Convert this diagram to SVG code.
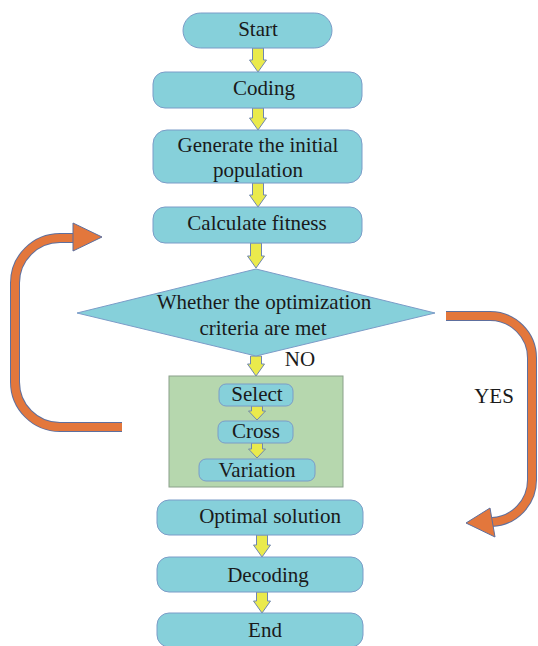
<svg xmlns="http://www.w3.org/2000/svg" width="538" height="646" viewBox="0 0 538 646" font-family="'Liberation Serif', 'Times New Roman', serif">
<style>
.box{fill:#86d0da;stroke:#7b9cc8;stroke-width:1}
.t{font-family:'Liberation Serif','Times New Roman',Times,serif;font-size:21px;fill:#1a1a1a;text-anchor:middle}
.ya{fill:#eaea4c;stroke:#6f86b0;stroke-width:1}
.orOut{fill:none;stroke:#5d6f9e;stroke-width:10}
.or{fill:none;stroke:#e3773c;stroke-width:8}
.orh{fill:#e3773c;stroke:#5d6f9e;stroke-width:1}
</style>
<rect width="538" height="646" fill="#ffffff"/>
<g id="ga"><rect x="169" y="376" width="174" height="111" fill="#b6d7ae" stroke="#8aa08a" stroke-width="1"/></g>
<g id="connectors">
  <path class="ya" d="M252.5,48 h11 v12 h3 l-8.5,12 l-8.5,-12 h3 z"/>
  <path class="ya" d="M252.5,108 h11 v10 h3 l-8.5,12 l-8.5,-12 h3 z"/>
  <path class="ya" d="M252.5,183 h11 v12 h3 l-8.5,12 l-8.5,-12 h3 z"/>
  <path class="ya" d="M250.5,243 h11 v13 h3 l-8.5,12 l-8.5,-12 h3 z"/>
  <path class="ya" d="M250.5,356 h11 v8 h3 l-8.5,12 l-8.5,-12 h3 z"/>
  <path class="ya" d="M251.5,406 h11 v5 h3 l-8.5,9 l-8.5,-9 h3 z"/>
  <path class="ya" d="M251.5,443 h11 v6 h3 l-8.5,9 l-8.5,-9 h3 z"/>
  <path class="ya" d="M256.5,535 h11 v10 h3 l-8.5,12 l-8.5,-12 h3 z"/>
  <path class="ya" d="M256.5,592 h11 v9 h3 l-8.5,12 l-8.5,-12 h3 z"/>
  <path class="orOut" d="M122,427 H60 A45,45 0 0 1 15,382 V283 A45,45 0 0 1 60,238 H74"/>
  <path class="or" d="M122,427 H60 A45,45 0 0 1 15,382 V283 A45,45 0 0 1 60,238 H75"/>
  <polygon class="orh" points="73,223 102,237 73,251"/>
  <path class="orOut" d="M446,316 H490 A42,42 0 0 1 532,358 V480 A42,42 0 0 1 492,522"/>
  <path class="or" d="M446,316 H490 A42,42 0 0 1 532,358 V480 A42,42 0 0 1 491,522"/>
  <polygon class="orh" points="490,508 466,523 495,537"/>
  <text class="t" x="300" y="366">NO</text>
  <text class="t" x="494" y="403">YES</text>
</g>
<g id="start"><rect class="box" x="183" y="13" width="149" height="35" rx="17.5"/><text class="t" x="258" y="36">Start</text></g>
<g id="coding"><rect class="box" x="153" y="72" width="209" height="36" rx="12"/><text class="t" x="264" y="95">Coding</text></g>
<g id="generate"><rect class="box" x="153" y="130" width="209" height="53" rx="14"/><text class="t" x="258" y="152">Generate the initial</text><text class="t" x="258" y="177">population</text></g>
<g id="fitness"><rect class="box" x="153" y="207" width="209" height="36" rx="12"/><text class="t" x="257" y="230">Calculate fitness</text></g>
<g id="decision"><polygon class="box" points="256,269 435,313 256,356 77,313"/><text class="t" x="264" y="309">Whether the optimization</text><text class="t" x="263" y="335">criteria are met</text></g>
<g id="select"><rect class="box" x="219" y="384" width="74" height="22" rx="7"/><text class="t" x="257" y="401">Select</text></g>
<g id="cross"><rect class="box" x="218" y="421" width="75" height="22" rx="7"/><text class="t" x="256" y="438">Cross</text></g>
<g id="variation"><rect class="box" x="199" y="459" width="116" height="22" rx="7"/><text class="t" x="257" y="477">Variation</text></g>
<g id="optimal"><rect class="box" x="157" y="500" width="206" height="35" rx="12"/><text class="t" x="270" y="523">Optimal solution</text></g>
<g id="decoding"><rect class="box" x="157" y="557" width="206" height="35" rx="12"/><text class="t" x="268" y="582">Decoding</text></g>
<g id="end"><rect class="box" x="157" y="613" width="206" height="34" rx="12"/><text class="t" x="265" y="637">End</text></g>
</svg>
